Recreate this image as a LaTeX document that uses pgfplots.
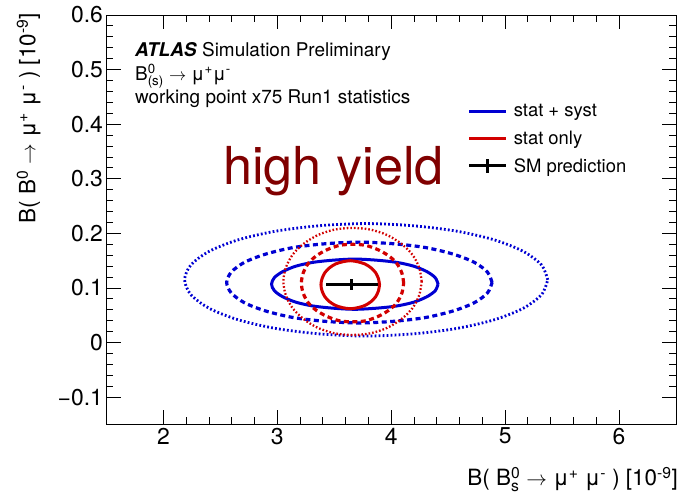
\documentclass[border=0pt]{standalone}
\usepackage{fontspec}
\setmainfont{TeX Gyre Heros}
\usepackage{pgfplots}
\pgfplotsset{compat=1.18}
\definecolor{rblue}{RGB}{0,0,210}
\definecolor{rred}{RGB}{210,0,0}
\definecolor{dred}{RGB}{128,0,0}
\makeatletter
\newcommand{\SupSub}[2]{\ensuremath{^{\mbox{\fontsize\sf@size\z@\selectfont #1}}_{\mbox{\fontsize\sf@size\z@\selectfont #2}}}}
\makeatother
\begin{document}
\begin{tikzpicture}
\begin{axis}[
  scale only axis, width=569.5bp, height=409.5bp,
  xmin=1.5, xmax=6.5, ymin=-0.15, ymax=0.6,
  xtick={2,3,4,5,6}, xticklabels={2,3,4,5,6},
  ytick={-0.1,0,0.1,0.2,0.3,0.4,0.5,0.6},
  yticklabels={−0.1,0,0.1,0.2,0.3,0.4,0.5,0.6},
  minor x tick num=4, minor y tick num=4,
  tick align=inside, major tick length=14bp, minor tick length=7bp,
  axis line style={line width=0.9bp},
  every tick/.style={black, line width=0.9bp},
  tick label style={font=\fontsize{23}{23}\selectfont},
  /pgf/number format/assume math mode=true,
  clip=false,
  legend style={draw=none, fill=none, inner sep=0pt,
    at={(rel axis cs:0.634,0.7866)}, anchor=north west,
    font=\fontsize{18.5}{18.5}\selectfont,
    row sep=8.5bp, column sep=4bp},
  legend cell align=left,
  legend image code/.code={\draw[#1] (0bp,0bp) -- (37bp,0bp);},
]
\coordinate (O) at (rel axis cs:0,0);
\addlegendimage{rblue, line width=3bp}
\addlegendentry{stat + syst}
\addlegendimage{rred, line width=3bp}
\addlegendentry{stat only}
\addlegendimage{legend image code/.code={\draw[black,line width=3bp] (0bp,0bp) -- (37bp,0bp); \draw[black,line width=3bp] (18.5bp,-7bp) -- (18.5bp,7bp);}}
\addlegendentry{SM prediction}

% blue dotted
\addplot[rblue, line width=2.8bp, dash pattern=on 1.8bp off 2.2bp, smooth, forget plot] coordinates {
(5.374,0.115) (5.320,0.142) (5.160,0.167) (4.907,0.188) (4.577,0.204) (4.193,0.214) (3.780,0.218) (3.367,0.214) (2.983,0.204) (2.653,0.188) (2.400,0.167) (2.240,0.142) (2.186,0.115) (2.240,0.088) (2.400,0.063) (2.653,0.042) (2.983,0.026) (3.367,0.016) (3.780,0.012) (4.193,0.016) (4.577,0.026) (4.907,0.042) (5.160,0.063) (5.320,0.088) (5.374,0.115)};
% blue dashed
\addplot[rblue, line width=3.2bp, dash pattern=on 5bp off 3.5bp, smooth, forget plot] coordinates {
(4.885,0.110) (4.845,0.129) (4.729,0.147) (4.544,0.162) (4.303,0.174) (4.022,0.181) (3.720,0.184) (3.418,0.181) (3.137,0.174) (2.896,0.162) (2.711,0.147) (2.595,0.129) (2.555,0.110) (2.595,0.091) (2.711,0.073) (2.896,0.058) (3.137,0.046) (3.418,0.039) (3.720,0.036) (4.022,0.039) (4.303,0.046) (4.544,0.058) (4.729,0.073) (4.845,0.091) (4.885,0.110)};
% blue solid
\addplot[rblue, line width=3bp, smooth, forget plot] coordinates {
(4.411,0.107) (4.386,0.119) (4.313,0.130) (4.197,0.140) (4.046,0.147) (3.869,0.151) (3.680,0.153) (3.491,0.151) (3.314,0.147) (3.163,0.140) (3.047,0.130) (2.974,0.119) (2.949,0.107) (2.974,0.095) (3.047,0.084) (3.163,0.074) (3.314,0.067) (3.491,0.063) (3.680,0.061) (3.869,0.063) (4.046,0.067) (4.197,0.074) (4.313,0.084) (4.386,0.095) (4.411,0.107)};
% red dotted
\addplot[rred, line width=2.3bp, dash pattern=on 1.6bp off 2bp, smooth, forget plot] coordinates {
(4.267,0.112) (4.246,0.137) (4.186,0.161) (4.089,0.181) (3.964,0.197) (3.817,0.207) (3.660,0.210) (3.503,0.207) (3.356,0.197) (3.231,0.181) (3.134,0.161) (3.074,0.137) (3.053,0.112) (3.074,0.087) (3.134,0.063) (3.231,0.043) (3.356,0.027) (3.503,0.017) (3.660,0.014) (3.817,0.017) (3.964,0.027) (4.089,0.043) (4.186,0.063) (4.246,0.087) (4.267,0.112)};
% red dashed
\addplot[rred, line width=3.2bp, dash pattern=on 5bp off 3.5bp, smooth, forget plot] coordinates {
(4.109,0.109) (4.094,0.127) (4.049,0.145) (3.977,0.159) (3.885,0.170) (3.776,0.178) (3.660,0.180) (3.544,0.178) (3.435,0.170) (3.343,0.159) (3.271,0.145) (3.226,0.127) (3.211,0.109) (3.226,0.091) (3.271,0.073) (3.343,0.059) (3.435,0.048) (3.544,0.040) (3.660,0.038) (3.776,0.040) (3.885,0.048) (3.977,0.059) (4.049,0.073) (4.094,0.091) (4.109,0.109)};
% red solid
\addplot[rred, line width=3bp, smooth, forget plot] coordinates {
(3.897,0.106) (3.888,0.117) (3.863,0.128) (3.822,0.137) (3.769,0.144) (3.707,0.148) (3.640,0.150) (3.573,0.148) (3.511,0.144) (3.458,0.137) (3.417,0.128) (3.392,0.117) (3.383,0.106) (3.392,0.095) (3.417,0.084) (3.458,0.075) (3.511,0.068) (3.573,0.064) (3.640,0.062) (3.707,0.064) (3.769,0.068) (3.822,0.075) (3.863,0.084) (3.888,0.095) (3.897,0.106)};
% SM prediction
\addplot[black, mark=none, forget plot,
  error bars/.cd, x dir=both, x explicit, y dir=both, y explicit,
  error mark=none, error bar style={line width=3bp}]
  coordinates {(3.655,0.106) +- (0.23,0.01)};

\node[anchor=base west, inner sep=0, font=\fontsize{19}{19}\selectfont] at (rel axis cs:0.050,0.898) {\textbf{\textit{ATLAS}} Simulation Preliminary};
\node[anchor=base west, inner sep=0, font=\fontsize{19}{19}\selectfont] at (rel axis cs:0.050,0.841) {B\SupSub{0}{(s)} $\rightarrow$ μ\textsuperscript{+}μ\textsuperscript{-}};
\node[anchor=base west, inner sep=0, font=\fontsize{19}{19}\selectfont] at (rel axis cs:0.050,0.785) {working point x75 Run1 statistics};
\node[anchor=base west, inner sep=0, text=dred, font=\fontsize{52.5}{52.5}\selectfont] at (rel axis cs:0.2045,0.585) {high yield};

\node[anchor=base east, inner sep=0, font=\fontsize{22.5}{22.5}\selectfont] at (rel axis cs:1.0035,-0.150) {B( B\SupSub{0}{s} $\rightarrow$ μ\textsuperscript{+} μ\textsuperscript{-} ) [10\textsuperscript{-9}]};
\node[rotate=90, anchor=base east, inner sep=0, font=\fontsize{22.5}{22.5}\selectfont] at (rel axis cs:-0.1247,1.005) {B( B\textsuperscript{0} $\rightarrow$ μ\textsuperscript{+} μ\textsuperscript{-} ) [10\textsuperscript{-9}]};
\end{axis}
\path (O) ++(-106.5bp,-73.5bp) rectangle ++(678bp,498bp);
\end{tikzpicture}
\end{document}
